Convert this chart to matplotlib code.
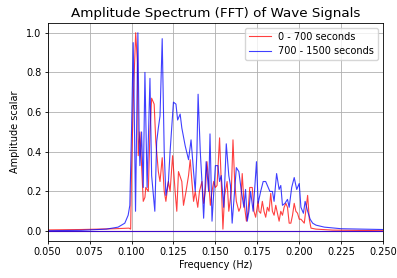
import numpy as np
import matplotlib.pyplot as plt

# red series: 0 - 700 seconds
f_red = [0.04, 0.05, 0.07, 0.09, 0.0985, 0.0995, 0.1, 0.1012, 0.1025, 0.1035, 0.104,
         0.105, 0.106, 0.107, 0.108, 0.1085, 0.11, 0.111, 0.112, 0.1135, 0.1145,
         0.116, 0.117, 0.1183, 0.1195, 0.1205, 0.122, 0.123, 0.1245, 0.126, 0.127,
         0.128, 0.13, 0.131, 0.1325, 0.134, 0.135, 0.136, 0.137, 0.138, 0.1395,
         0.1405, 0.142, 0.143, 0.144, 0.145, 0.146, 0.147, 0.148, 0.149, 0.15,
         0.151, 0.1525, 0.1535, 0.1545, 0.1555, 0.157, 0.158, 0.1595, 0.1605,
         0.1615, 0.1625, 0.164, 0.165, 0.166, 0.167, 0.1685, 0.1695, 0.1705,
         0.172, 0.173, 0.174, 0.1755, 0.176, 0.177, 0.178, 0.179, 0.18, 0.181,
         0.182, 0.183, 0.184, 0.185, 0.186, 0.187, 0.188, 0.189, 0.19, 0.191,
         0.192, 0.193, 0.194, 0.195, 0.196, 0.197, 0.198, 0.199, 0.2, 0.201,
         0.202, 0.203, 0.204, 0.205, 0.206, 0.207, 0.21, 0.22, 0.25, 0.26]
a_red = [0.005, 0.006, 0.008, 0.012, 0.015, 0.01, 0.3, 0.7, 1.0, 0.85, 0.38,
         0.5, 0.33, 0.15, 0.17, 0.22, 0.2, 0.5, 0.67, 0.64, 0.45,
         0.3, 0.25, 0.37, 0.2, 0.15, 0.25, 0.2, 0.38, 0.2, 0.1,
         0.3, 0.25, 0.13, 0.2, 0.28, 0.36, 0.25, 0.15, 0.2, 0.12,
         0.2, 0.25, 0.14, 0.2, 0.35, 0.25, 0.13, 0.2, 0.25, 0.22,
         0.23, 0.47, 0.25, 0.01, 0.18, 0.25, 0.1, 0.2, 0.46,
         0.25, 0.15, 0.1, 0.12, 0.29, 0.15, 0.05, 0.1, 0.22,
         0.22, 0.1, 0.07, 0.15, 0.1, 0.09, 0.15, 0.1, 0.07, 0.12,
         0.1, 0.19, 0.1, 0.08, 0.13, 0.09, 0.05, 0.1, 0.08, 0.12,
         0.14, 0.12, 0.04, 0.04, 0.08, 0.14, 0.1, 0.09, 0.06, 0.06,
         0.05, 0.04, 0.11, 0.18, 0.06, 0.015, 0.01, 0.005, 0.002, 0.002]

# blue series: 700 - 1500 seconds
f_blue = [0.04, 0.05, 0.07, 0.085, 0.092, 0.096, 0.098, 0.099, 0.1, 0.101, 0.1015,
          0.1024, 0.1038, 0.1046, 0.105, 0.106, 0.107, 0.108, 0.1093, 0.111,
          0.112, 0.1139, 0.115, 0.116, 0.117, 0.1183, 0.1195, 0.1205, 0.122,
          0.123, 0.125, 0.1265, 0.1275, 0.129, 0.13, 0.132, 0.134, 0.1355,
          0.137, 0.138, 0.139, 0.1397, 0.141, 0.142, 0.143, 0.1445, 0.146,
          0.1468, 0.148, 0.15, 0.1515, 0.1525, 0.1535, 0.155, 0.1565, 0.158,
          0.159, 0.16, 0.161, 0.1625, 0.164, 0.1655, 0.167, 0.168, 0.169, 0.17,
          0.171, 0.1725, 0.1735, 0.1745, 0.1755, 0.177, 0.1785, 0.18, 0.181,
          0.1825, 0.184, 0.185, 0.1865, 0.188, 0.189, 0.19, 0.1915, 0.193,
          0.194, 0.1955, 0.197, 0.1985, 0.2, 0.201, 0.2025, 0.2035, 0.205,
          0.2065, 0.208, 0.21, 0.215, 0.225, 0.25, 0.26]
a_blue = [0.002, 0.002, 0.004, 0.01, 0.02, 0.04, 0.08, 0.13, 0.5, 0.95, 0.7,
          0.1, 1.0, 0.45, 0.33, 0.5, 0.22, 0.8, 0.22, 0.77,
          0.28, 0.1, 0.45, 0.52, 0.58, 0.97, 0.4, 0.18, 0.25,
          0.4, 0.65, 0.64, 0.56, 0.59, 0.52, 0.43, 0.36, 0.46,
          0.3, 0.2, 0.4, 0.69, 0.4, 0.25, 0.065, 0.35, 0.2,
          0.49, 0.05, 0.33, 0.33, 0.25, 0.28, 0.12, 0.44, 0.28,
          0.23, 0.04, 0.15, 0.32, 0.3, 0.2, 0.12, 0.21, 0.05, 0.1,
          0.2, 0.1, 0.22, 0.35, 0.14, 0.2, 0.25, 0.25, 0.23,
          0.2, 0.2, 0.15, 0.29, 0.21, 0.23, 0.13, 0.14, 0.16,
          0.12, 0.22, 0.27, 0.21, 0.24, 0.12, 0.09, 0.15, 0.1,
          0.06, 0.04, 0.03, 0.02, 0.012, 0.008, 0.008]

fig = plt.figure(figsize=(3.97, 2.78), dpi=100)
ax = fig.add_axes([0.120, 0.133, 0.845, 0.785])

ax.plot(f_red, a_red, color='red', alpha=0.75, linewidth=0.8, label='0 - 700 seconds')
ax.plot(f_blue, a_blue, color='blue', alpha=0.75, linewidth=0.8, label='700 - 1500 seconds')
ax.axhline(0, color='red', alpha=0.75, linewidth=0.8)
ax.axhline(0, color='blue', alpha=0.75, linewidth=0.8)

ax.set_xlim(0.05, 0.25)
ax.set_ylim(-0.05, 1.05)
ax.set_xticks(np.arange(0.05, 0.2501, 0.025))
ax.set_yticks([0.0, 0.2, 0.4, 0.6, 0.8, 1.0])
ax.tick_params(labelsize=7, length=2.5, width=0.6, pad=2)
for s in ax.spines.values():
    s.set_linewidth(0.6)

ax.set_title('Amplitude Spectrum (FFT) of Wave Signals', fontsize=9.7, pad=4)
ax.set_xlabel('Frequency (Hz)', fontsize=7, labelpad=2)
ax.set_ylabel('Amplitude scalar', fontsize=7, labelpad=4)
ax.grid(True, linewidth=0.6)
ax.legend(fontsize=7, loc='upper right', handlelength=2.2)

plt.savefig('out.png', dpi=100)
